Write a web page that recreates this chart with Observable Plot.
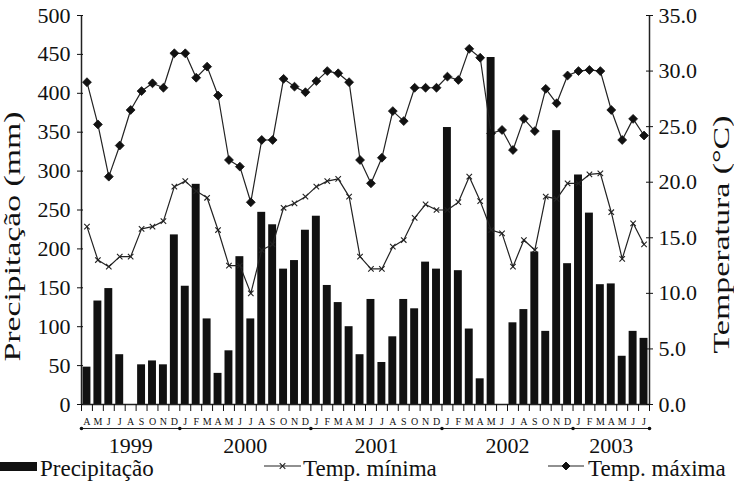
<!DOCTYPE html>
<html><head><meta charset="utf-8">
<script src="https://cdn.jsdelivr.net/npm/d3@7"></script>
<script src="https://cdn.jsdelivr.net/npm/@observablehq/plot@0.6"></script>
<style>
body{margin:0;background:#fff;}
#chart svg{display:block;}
#legend{position:relative;width:734px;height:38px;font-family:"Liberation Serif","Times New Roman",serif;font-size:23px;color:#111;}
#legend .it{position:absolute;white-space:nowrap;line-height:23px;}
#legend svg{position:absolute;}
</style></head><body>
<div id="chart"></div>
<div id="legend"></div>
<script>
// Month letters, April 1999 – July 2003
const months = ["A","M","J","J","A","S","O","N","D",
  "J","F","M","A","M","J","J","A","S","O","N","D",
  "J","F","M","A","M","J","J","A","S","O","N","D",
  "J","F","M","A","M","J","J","A","S","O","N","D",
  "J","F","M","A","M","J","J"];
const years = ["1999","2000","2001","2002","2003"];
const monthsPerYear = [9,12,12,12,7];
// Precipitação (mm)
const precip = [48,133,149,64,0,51,56,51,218,
  152,283,110,40,69,190,110,247,231,174,185,224,
  242,153,131,100,64,135,54,87,135,123,183,174,
  356,172,97,33,446,0,105,122,196,94,352,181,
  295,246,154,155,62,94,85];
// Temp. mínima (°C)
const tmin = [16.0,13.0,12.4,13.3,13.3,15.8,16.0,16.5,19.6,
  20.1,19.2,18.6,15.7,12.5,12.5,10.0,13.9,14.4,17.7,18.1,18.7,
  19.6,20.1,20.3,18.7,13.3,12.2,12.2,14.2,14.8,16.8,18.0,17.5,
  17.5,18.2,20.5,18.3,15.7,15.4,12.4,14.8,13.9,18.7,18.5,19.9,
  19.9,20.7,20.8,17.3,13.1,16.3,14.4];
// Temp. máxima (°C)
const tmax = [29.0,25.2,20.5,23.3,26.5,28.2,28.9,28.5,31.6,
  31.6,29.4,30.4,27.8,22.0,21.4,18.2,23.8,23.8,29.3,28.6,28.1,
  29.1,30.0,29.8,29.0,22.0,19.9,22.2,26.4,25.5,28.5,28.5,28.5,
  29.5,29.2,32.0,31.2,24.4,24.7,22.9,25.7,24.6,28.4,27.1,29.6,
  30.0,30.1,30.0,26.5,23.8,25.7,24.2];
const precipTicks = [0,50,100,150,200,250,300,350,400,450,500];
const tempTicks = [0,5,10,15,20,25,30,35];
const precipMax = 500, tempMax = 35;
const K = precipMax / tempMax;

const data = months.map((m, i) => ({i, month: m, precip: precip[i], tmin: tmin[i], tmax: tmax[i]}));
const yearBounds = [0];
monthsPerYear.forEach(n => yearBounds.push(yearBounds[yearBounds.length - 1] + n));
const yearData = years.map((y, j) => ({year: y, mid: (yearBounds[j] + yearBounds[j + 1]) / 2}));

const ink = "#111";
const font = "'Liberation Serif', 'Times New Roman', serif";
const titleL = "Precipitação (mm)";
const titleR = "Temperatura (°C)";

const plot = Plot.plot({
  width: 734, height: 455,
  marginLeft: 81, marginRight: 85, marginTop: 15, marginBottom: 51,
  style: {fontFamily: font, fontSize: "22px", color: ink, background: "white", overflow: "visible"},
  x: {type: "linear", domain: [0, months.length], label: null},
  y: {domain: [0, precipMax], label: null},
  marks: [
    Plot.rectY(data, {x1: d => d.i, x2: d => d.i + 1, y: "precip", fill: ink, insetLeft: 1.5, insetRight: 1.5}),
    Plot.lineY(data, {x: d => d.i + 0.5, y: d => d.tmin * K, stroke: "#222", strokeWidth: 1.2}),
    Plot.dot(data, {x: d => d.i + 0.5, y: d => d.tmin * K, symbol: "times", r: 2.6, stroke: "#222", strokeWidth: 1.1}),
    Plot.lineY(data, {x: d => d.i + 0.5, y: d => d.tmax * K, stroke: "#222", strokeWidth: 1.2}),
    Plot.dot(data, {x: d => d.i + 0.5, y: d => d.tmax * K, symbol: "diamond2", r: 4, fill: ink, stroke: ink, strokeWidth: 0.8}),
    Plot.ruleX([0, months.length], {y1: 0, y2: precipMax, stroke: "#222", strokeWidth: 1.5}),
    Plot.ruleY([0], {stroke: "#222", strokeWidth: 1.5}),
    Plot.axisY({anchor: "left", label: null, ticks: precipTicks, tickSize: 6, dx: 2, tickPadding: 7, fontSize: 22, tickFormat: d => String(d)}),
    Plot.axisY({anchor: "right", label: null, ticks: tempTicks.map(t => t * K), tickSize: 7, dx: -4, tickPadding: 6, fontSize: 22,
      tickFormat: d => (d / K).toFixed(1)}),
    Plot.axisX({label: null, ticks: d3.range(months.length + 1), tickSize: 7, tickFormat: () => ""}),
    Plot.text(data, {x: d => d.i + 0.5, text: "month", frameAnchor: "bottom", dy: 17, fontSize: 10, lineAnchor: "middle"}),
    Plot.ruleY([0], {dy: 24, stroke: "#222", strokeWidth: 1.2}),
    Plot.dot(yearBounds, {x: d => d, frameAnchor: "bottom", dy: 24, r: 1.8, fill: ink}),
    Plot.text(yearData, {x: "mid", text: "year", frameAnchor: "bottom", dy: 41, fontSize: 22, lineAnchor: "middle"}),
    Plot.text([titleL], {text: d => d, frameAnchor: "left", dx: -69, dy: 26.5, rotate: -90, fontSize: 24,
      textAnchor: "middle", lineAnchor: "middle"}),
    Plot.text([titleR], {text: d => d, frameAnchor: "right", dx: 72, dy: 24.5, rotate: -90, fontSize: 24,
      textAnchor: "middle", lineAnchor: "middle"})
  ]
});
d3.select(plot).selectAll("text").each(function() {
  const t = this.textContent;
  if (t === titleL) d3.select(this).attr("textLength", 250).attr("lengthAdjust", "spacingAndGlyphs");
  if (t === titleR) d3.select(this).attr("textLength", 238).attr("lengthAdjust", "spacingAndGlyphs");
});
document.getElementById("chart").appendChild(plot);

// Legend below the chart
const legend = d3.select("#legend");
const items = [
  {label: "Precipitação", kind: "bar", sx: 0, sw: 38, tx: 40},
  {label: "Temp. mínima", kind: "min", sx: 264, sw: 37, tx: 303},
  {label: "Temp. máxima", kind: "max", sx: 548, sw: 36, tx: 588}
];
items.forEach(it => {
  const s = legend.append("svg").attr("width", it.sw).attr("height", 20)
    .style("left", it.sx + "px").style("top", "1px");
  if (it.kind === "bar") {
    s.append("rect").attr("x", 0).attr("y", 6).attr("width", it.sw - 1).attr("height", 9).attr("fill", ink);
  } else {
    s.append("line").attr("x1", 0).attr("x2", it.sw).attr("y1", 10).attr("y2", 10).attr("stroke", "#222").attr("stroke-width", 1.2);
    const c = it.sw / 2;
    if (it.kind === "min") {
      s.append("path").attr("d", d3.symbol(d3.symbolTimes, 22)()).attr("transform", `translate(${c},10)`)
        .attr("stroke", "#222").attr("fill", "none").attr("stroke-width", 1.1);
    } else {
      s.append("path").attr("d", d3.symbol(d3.symbolDiamond2, 40)()).attr("transform", `translate(${c},10)`)
        .attr("fill", ink).attr("stroke", ink);
    }
  }
  legend.append("div").attr("class", "it").style("left", it.tx + "px").style("top", "2px").text(it.label);
});
</script>
</body></html>
